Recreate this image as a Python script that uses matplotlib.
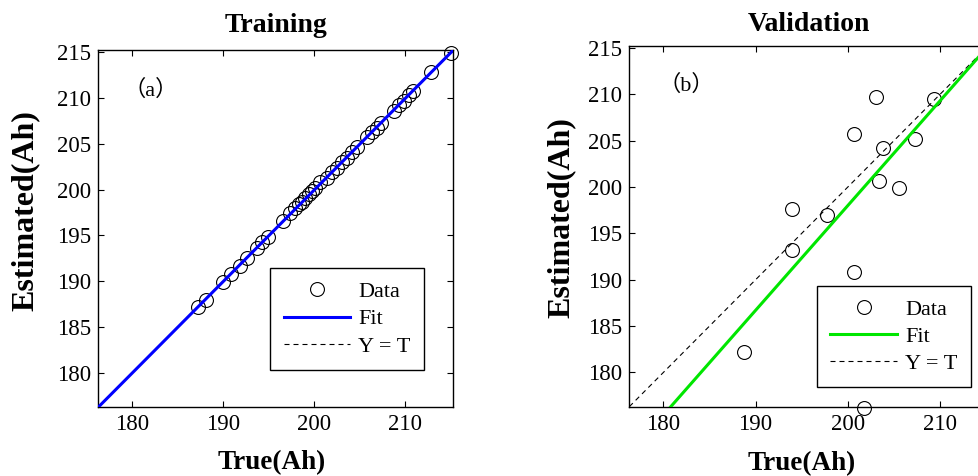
import numpy as np
import matplotlib
matplotlib.use("Agg")
import matplotlib.pyplot as plt

plt.rcParams['font.family'] = ['Liberation Serif', 'Noto Sans CJK SC', 'DejaVu Sans']

# training set: true vs estimated capacity (Ah)
train_true = [187.3, 188.1, 190.0, 190.9, 191.9, 192.6, 193.7, 194.3, 194.9, 196.6,
              197.4, 197.9, 198.3, 198.7, 199.0, 199.4, 199.8, 200.1, 200.7, 201.4,
              202.0, 202.5, 203.1, 203.6, 204.2, 204.7, 205.8, 206.4, 206.9, 207.4,
              208.8, 209.3, 209.9, 210.4, 210.9, 212.8, 215.0]
train_est = [187.2, 188.0, 189.9, 190.8, 191.7, 192.5, 193.6, 194.3, 194.8, 196.6,
             197.4, 198.0, 198.4, 198.7, 199.1, 199.5, 199.8, 200.2, 200.8, 201.3,
             201.9, 202.4, 203.0, 203.5, 204.1, 204.7, 205.7, 206.3, 206.7, 207.3,
             208.6, 209.2, 209.7, 210.3, 210.8, 212.8, 214.9]

# validation set
val_true = [188.7, 194.0, 194.0, 197.7, 200.7, 200.7, 203.1, 203.8, 203.4, 205.6,
            207.3, 209.4, 201.8]
val_est = [182.2, 197.6, 193.2, 197.0, 205.7, 190.8, 209.7, 204.2, 200.6, 199.9,
           205.2, 209.5, 176.2]

# regression lines (slope, intercept)
train_fit = (1.0, -0.05)
val_fit = (1.13, -28.0)

lims = (176.3, 215.25)
ticks_x = [180, 190, 200, 210]
ticks_y = [180, 185, 190, 195, 200, 205, 210, 215]

fig = plt.figure(figsize=(9.79, 4.76), dpi=100)
ax1 = fig.add_axes([0.1004, 0.1456, 0.3623, 0.7494])
ax2 = fig.add_axes([0.6428, 0.1456, 0.3668, 0.7584])


def draw_panel(ax, t, y, fit, color, title, tag, tag_pos, title_pad):
    xs = np.array(lims)
    ax.plot(t, y, 'o', mfc='none', mec='black', ms=10, mew=0.8, label='Data',
            zorder=2, clip_on=False)
    ax.plot(xs, fit[0] * xs + fit[1], '-', color=color, lw=2.2, label='Fit', zorder=4)
    ax.plot(xs, xs, '--', color='black', lw=0.8, dashes=(4.5, 3.6), label='Y = T', zorder=3)
    ax.set_xlim(lims)
    ax.set_ylim(lims)
    ax.set_xticks(ticks_x)
    ax.set_yticks(ticks_y)
    ax.tick_params(direction='in', length=4, width=0.8, labelsize=16.5, pad=5,
                   top=True, right=True)
    for s in ax.spines.values():
        s.set_linewidth(1.0)
    ax.set_title(title, fontsize=20, fontweight='bold', pad=title_pad)
    ax.text(tag_pos[0], tag_pos[1], tag, transform=ax.transAxes, fontsize=16,
            va='center', ha='left')


draw_panel(ax1, train_true, train_est, train_fit, '#0000ff', 'Training',
           '（a）', (0.07, 0.888), 13)
draw_panel(ax2, val_true, val_est, val_fit, '#00e600', 'Validation',
           '（b）', (0.08, 0.891), 10.5)

ax1.set_xlabel('True(Ah)', fontsize=19.5, fontweight='bold')
ax2.set_xlabel('True(Ah)', fontsize=19.5, fontweight='bold')
ax1.set_ylabel('Estimated(Ah)', fontsize=23, fontweight='bold')
ax2.set_ylabel('Estimated(Ah)', fontsize=23, fontweight='bold')
ax1.xaxis.set_label_coords(0.489, -0.122)
ax2.xaxis.set_label_coords(0.48, -0.122)
ax1.yaxis.set_label_coords(-0.164, 0.551)
ax2.yaxis.set_label_coords(-0.148, 0.525)

leg_kw = dict(loc='lower right', fontsize=16, handlelength=3.0, handletextpad=0.36,
              borderpad=0.6, labelspacing=0.3, fancybox=False, framealpha=1,
              edgecolor='black', borderaxespad=0, bbox_transform=fig.transFigure)
l1 = ax1.legend(bbox_to_anchor=(424 / 979, (476 - 370) / 476), **leg_kw)
l2 = ax2.legend(bbox_to_anchor=(970.7 / 979, (476 - 387.3) / 476), **leg_kw)
for leg in (l1, l2):
    leg.get_frame().set_linewidth(1.0)

fig.savefig('out.png', dpi=100)
